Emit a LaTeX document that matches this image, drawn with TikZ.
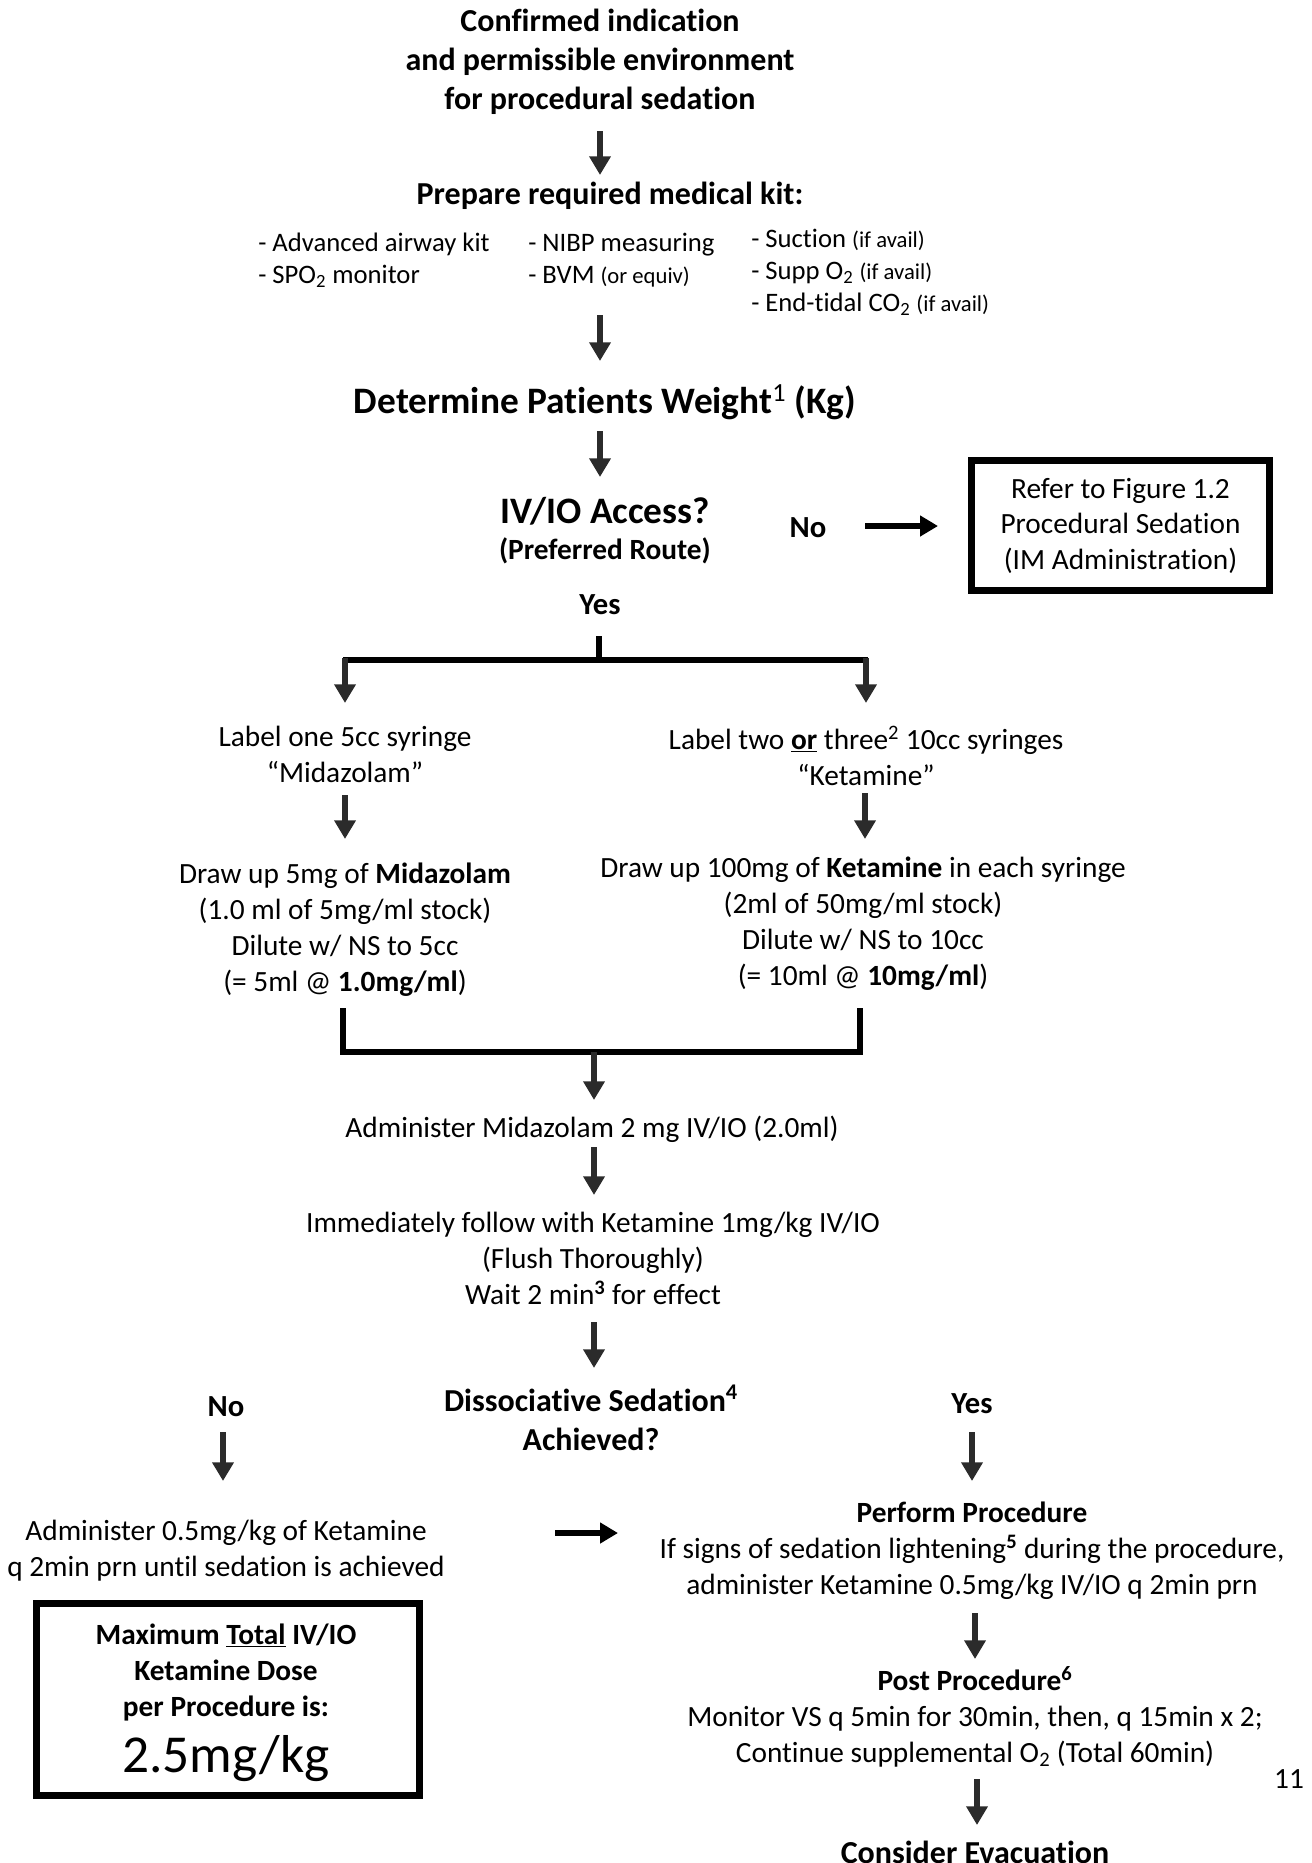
\documentclass[tikz,border=0pt]{standalone}
\usepackage{fontspec}
\setmainfont{Carlito}[Ligatures=NoCommon]
\usetikzlibrary{arrows.meta,calc}
\definecolor{arrowgray}{HTML}{2B2B2B}
\newcommand{\fs}[2]{\fontsize{#1}{#2}\selectfont}
\begin{document}
\begin{tikzpicture}[x=0.75pt,y=-0.75pt,
  every node/.style={inner sep=0pt, align=center},
  body/.style={font=\fs{22}{27}},
  bhead/.style={font=\bfseries\fs{24}{29.25}},
  yesno/.style={font=\bfseries\fs{23}{28}},
  kitstyle/.style={font=\fs{20}{24}, align=left, anchor=west},
  arr/.style={draw=arrowgray, line width=4.8pt, -{Triangle[length=14pt,width=15.5pt]}},
  harr/.style={draw=black, line width=5pt, -{Triangle[length=13.5pt,width=15pt]}},
  bar/.style={draw=black, line width=4.5pt},
  frame/.style={draw=black, line width=5.25pt, inner sep=0pt},
]
\useasboundingbox (0,0) rectangle (1312,1863);
\clip (0,0) rectangle (1312,1863);

% top
\node[bhead] (title) at (600,62) {Confirmed indication\\and permissible environment\\for procedural sedation};
\draw[arr] (title) ++(0,69) -- ++(0,44);
\node[bhead] (kit) at (610,196) {Prepare required medical kit:};
\node[kitstyle] (k1) at (258,260) {- Advanced airway kit\\- SPO\textsubscript{2} monitor};
\node[kitstyle] (k2) at (528,260) {- NIBP measuring\\- BVM {\fs{17}{24}(or equiv)}};
\node[kitstyle] (k3) at (751,272) {- Suction {\fs{17}{24}(if avail)}\\- Supp O\textsubscript{2} {\fs{17}{24}(if avail)}\\- End-tidal CO\textsubscript{2} {\fs{17}{24}(if avail)}};

\node[font=\bfseries\fs{28}{34}] (weight) at (605,402) {Determine Patients Weight\textsuperscript{\mdseries 1} (Kg)};
\draw[arr] (weight) ++(-5,-87) -- ++(0,46);
\draw[arr] (weight) ++(-5,29) -- ++(0,46);

\node[font=\bfseries\fs{28}{34}] (access) at (605,511) {IV/IO Access?};
\node[font=\bfseries\fs{22}{27}] (route) at (605,551) {(Preferred Route)};
\node[yesno] (no1) at (808,528) {No};
\draw[harr] (no1) ++(57,-2) -- ++(73,0);
\node[frame, minimum width=223.5pt, minimum height=97.5pt, font=\fs{22}{26.6}] (refer) at (1120.5,525.5) {Refer to Figure 1.2\\Procedural Sedation\\(IM Administration)};

\node[yesno] (yes1) at (600,605) {Yes};
\draw[bar] (yes1) ++(-1,31) -- ++(0,24);
\draw[bar] (yes1) ++(-257,55) -- ++(525,0);

% syringes
\node[body] (lab1) at (345,754) {Label one 5cc syringe\\“Midazolam”};
\node[body] (lab2) at (866,756) {Label two \textbf{\underline{or}} three\textsuperscript{2} 10cc syringes\\“Ketamine”};
\draw[arr] (lab1) ++(0,-96) -- ++(0,45);
\draw[arr] (lab2) ++(0,-98) -- ++(0,45);
\draw[arr] (lab1) ++(0,41) -- ++(0,44);
\draw[arr] (lab2) ++(-1,37) -- ++(0,46);

\node[body] (draw1) at (345,930) {Draw up 5mg of \textbf{Midazolam}\\(1.0 ml of 5mg/ml stock)\\Dilute w/ NS to 5cc\\(= 5ml @ \textbf{1.0mg/ml})};
\node[body] (draw2) at (863,923.5) {Draw up 100mg of \textbf{Ketamine} in each syringe\\(2ml of 50mg/ml stock)\\Dilute w/ NS to 10cc\\(= 10ml @ \textbf{10mg/ml})};
\draw[bar] (draw1) ++(-2,78) -- ++(0,44) -| ++(517,-44);

% administration
\node[body] (adm) at (592,1129) {Administer Midazolam 2 mg IV/IO (2.0ml)};
\draw[arr] (adm) ++(2,-77) -- ++(0,48);
\draw[arr] (adm) ++(2,18) -- ++(0,48);
\node[body] (imm) at (593,1258) {Immediately follow with Ketamine 1mg/kg IV/IO\\(Flush Thoroughly)\\Wait 2 min\textsuperscript{\textbf{3}} for effect};
\draw[arr] (imm) ++(1,64) -- ++(0,46);
\node[bhead] (diss) at (591,1418) {Dissociative Sedation\textsuperscript{4}\\Achieved?};

\node[yesno] (no2) at (226,1407) {No};
\node[yesno] (yes2) at (972,1404) {Yes};
\draw[arr] (no2) ++(-3,25) -- ++(0,49);
\draw[arr] (yes2) ++(0,28) -- ++(0,49);

\node[body] (adm2) at (226,1551) {Administer 0.5mg/kg of Ketamine\\q 2min prn until sedation is achieved};
\draw[harr] (adm2) ++(329,-18) -- ++(63,0);
\node[body] (perf) at (972,1551) {\textbf{Perform Procedure}\\If signs of sedation lightening\textsuperscript{\textbf{5}} during the procedure,\\administer Ketamine 0.5mg/kg IV/IO q 2min prn};
\draw[arr] (perf) ++(3,62) -- ++(0,46);
\node[body] (post) at (975,1717) {\textbf{Post Procedure\textsuperscript{6}}\\Monitor VS q 5min for 30min, then, q 15min x 2;\\Continue supplemental O\textsubscript{2} (Total 60min)};
\draw[arr] (post) ++(2,62) -- ++(0,46);
\node[bhead] (evac) at (975,1852) {Consider Evacuation};
\node[body] (pg) at (1289,1779) {11};

% max dose box
\node[frame, minimum width=287.25pt, minimum height=144pt] (maxbox) at (228,1699.5) {};
\node[font=\bfseries\fs{22}{27}] (maxtxt) at (226,1672) {Maximum \underline{Total} IV/IO\\Ketamine Dose\\per Procedure is:};
\node[font=\fs{40}{48}] (dose) at (226,1759) {2.5mg/kg};
\end{tikzpicture}
\end{document}
